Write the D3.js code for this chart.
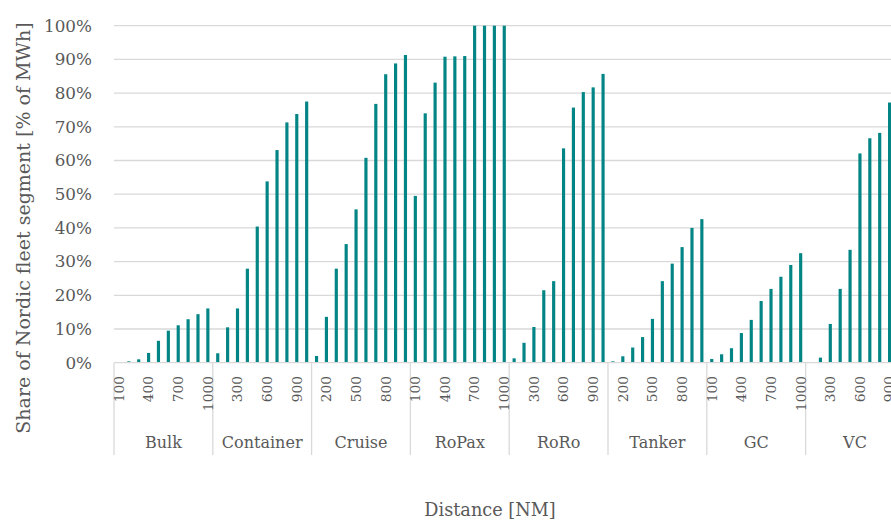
<!DOCTYPE html>
<html>
<head>
<meta charset="utf-8">
<script src="https://cdn.jsdelivr.net/npm/d3@7"></script>
<style>
  html, body { margin: 0; padding: 0; background: #fff; overflow: hidden; }
  svg { display: block; font-family: "DejaVu Serif", serif; }
</style>
</head>
<body>
<svg id="chart" width="891" height="520"></svg>
<script>
const segments = ["Bulk", "Container", "Cruise", "RoPax", "RoRo", "Tanker", "GC", "VC"];
const distances = [100, 200, 300, 400, 500, 600, 700, 800, 900, 1000];
const bulk      = [0, 0.4, 1.0, 2.9, 6.5, 9.5, 11.1, 12.9, 14.4, 16.1];
const container = [2.8, 10.5, 16.1, 27.9, 40.4, 53.8, 63.1, 71.3, 73.8, 77.5];
const cruise    = [2.0, 13.6, 27.9, 35.2, 45.5, 60.8, 76.8, 85.6, 88.8, 91.3];
const ropax     = [49.5, 74.0, 83.1, 90.8, 90.9, 91.0, 100, 100, 100, 100];
const roro      = [1.3, 5.9, 10.6, 21.5, 24.2, 63.6, 75.7, 80.3, 81.7, 85.7];
const tanker    = [0.4, 1.9, 4.5, 7.6, 13.0, 24.2, 29.4, 34.3, 40.0, 42.6];
const gc        = [1.1, 2.5, 4.3, 8.8, 12.7, 18.3, 21.9, 25.5, 29.0, 32.5];
const vc        = [0, 1.5, 11.5, 21.9, 33.5, 62.1, 66.6, 68.2, 77.2, 79.0];
const yTicks = [0, 10, 20, 30, 40, 50, 60, 70, 80, 90, 100];

const seriesBySegment = [bulk, container, cruise, ropax, roro, tanker, gc, vc];
const data = [];
segments.forEach((s, si) => {
  distances.forEach((d, di) => {
    data.push({ key: s + "|" + d, seg: s, dist: d, value: seriesBySegment[si][di], idx: si * distances.length + di });
  });
});

const svg = d3.select("#chart");
const x0 = 114, plotW = 790.4;
const yBottom = 362.7, yTop = 25.7;
const textColor = "#595959", gridColor = "#d9d9d9", barColor = "#048585";

const x = d3.scaleBand().domain(data.map(d => d.key)).range([x0, x0 + plotW]).paddingInner(0.68).paddingOuter(0.34);
const xSeg = d3.scaleBand().domain(segments).range([x0, x0 + plotW]);
const y = d3.scaleLinear().domain([0, 100]).range([yBottom, yTop]);

// gridlines
svg.append("g").selectAll("line").data(yTicks.filter(t => t > 0)).join("line")
  .attr("x1", x0).attr("x2", 891)
  .attr("y1", d => y(d)).attr("y2", d => y(d))
  .attr("stroke", gridColor).attr("stroke-width", 1.3);

// y axis labels
const yAxis = d3.axisLeft(y).tickValues(yTicks).tickFormat(d => d + "%").tickSize(0).tickPadding(0);
const gy = svg.append("g").attr("transform", `translate(92,0)`).call(yAxis);
gy.select(".domain").remove();
gy.selectAll("text").attr("fill", textColor).attr("font-size", 16.8).attr("font-family", "DejaVu Serif");

// bars
svg.append("g").selectAll("rect").data(data).join("rect")
  .attr("x", d => x(d.key))
  .attr("width", x.bandwidth())
  .attr("y", d => y(d.value))
  .attr("height", d => y(0) - y(d.value))
  .attr("fill", barColor);

// x axis baseline
svg.append("line").attr("x1", x0).attr("x2", 891).attr("y1", yBottom).attr("y2", yBottom)
  .attr("stroke", gridColor).attr("stroke-width", 1.3);

// group separators
const bounds = segments.map(s => xSeg(s)).concat([x0 + plotW]);
svg.append("g").selectAll("line").data(bounds).join("line")
  .attr("x1", d => d).attr("x2", d => d)
  .attr("y1", yBottom).attr("y2", 455)
  .attr("stroke", gridColor).attr("stroke-width", 1.3);

// distance tick labels (every 3rd)
const xc = d => x(d.key) + x.bandwidth() / 2;
svg.append("g").selectAll("text").data(data.filter(d => d.idx % 3 === 0)).join("text")
  .attr("transform", d => `translate(${xc(d)},376) rotate(-90)`)
  .attr("text-anchor", "end").attr("dy", "0.35em")
  .attr("font-size", 13.8).attr("fill", textColor)
  .text(d => d.dist);

// segment labels
svg.append("g").selectAll("text").data(segments).join("text")
  .attr("x", d => xSeg(d) + xSeg.bandwidth() / 2).attr("y", 448)
  .attr("text-anchor", "middle").attr("font-size", 16).attr("fill", textColor)
  .text(d => d);

// axis titles
svg.append("text").attr("x", 490).attr("y", 516).attr("text-anchor", "middle")
  .attr("font-size", 17.7).attr("fill", textColor).text("Distance [NM]");
svg.append("text").attr("transform", "translate(23,228) rotate(-90)")
  .attr("text-anchor", "middle").attr("dy", "0.35em")
  .attr("font-size", 19).attr("fill", textColor).text("Share of Nordic fleet segment [% of MWh]");
</script>
</body>
</html>
